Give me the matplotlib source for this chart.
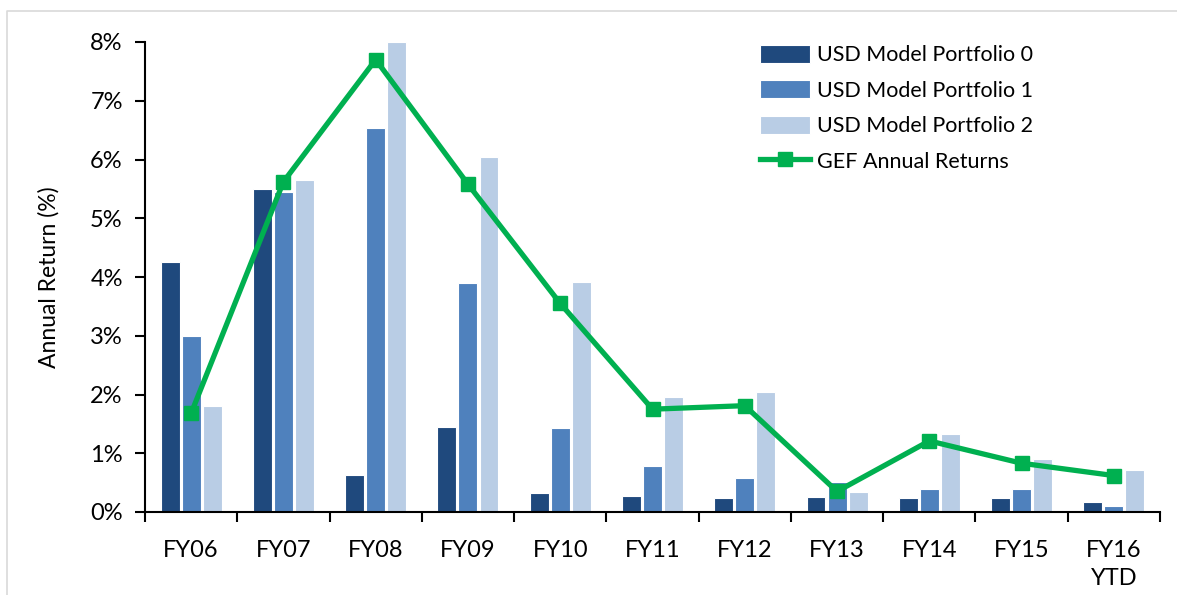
import matplotlib.pyplot as plt
import numpy as np
from matplotlib.lines import Line2D

plt.rcParams['font.family'] = ['Lato', 'DejaVu Sans']

years = ['FY06', 'FY07', 'FY08', 'FY09', 'FY10', 'FY11', 'FY12', 'FY13', 'FY14', 'FY15', 'FY16\nYTD']
p0 = [4.25, 5.50, 0.63, 1.45, 0.33, 0.28, 0.24, 0.26, 0.24, 0.23, 0.17]
p1 = [3.00, 5.45, 6.53, 3.90, 1.43, 0.78, 0.58, 0.51, 0.40, 0.40, 0.10]
p2 = [1.80, 5.65, 8.00, 6.05, 3.92, 1.95, 2.04, 0.34, 1.33, 0.90, 0.71]
gef = [1.68, 5.62, 7.70, 5.58, 3.55, 1.75, 1.81, 0.35, 1.21, 0.83, 0.62]

fig = plt.figure(figsize=(11.77, 5.95), dpi=100)
# light frame around the chart area (top and left edges visible)
fig.lines.append(Line2D([7/1177, 7/1177, 1], [0, 1 - 11/595, 1 - 11/595], transform=fig.transFigure,
                        color='#d9d9d9', linewidth=1.2))
ax = fig.add_axes([145/1177, 1 - 512/595, 1015/1177, 470/595])

x = np.arange(len(years))
w = 0.205
off = 0.228
ax.bar(x - off, p0, w, color='#1f497d', edgecolor='white', linewidth=0.8, label='USD Model Portfolio 0', zorder=2)
ax.bar(x, p1, w, color='#4f81bd', edgecolor='white', linewidth=0.8, label='USD Model Portfolio 1', zorder=2)
ax.bar(x + off, p2, w, color='#b9cde5', edgecolor='white', linewidth=0.8, label='USD Model Portfolio 2', zorder=2)
ax.plot(x, gef, color='#00b050', linewidth=3.8, marker='s', markersize=10, label='GEF Annual Returns', zorder=3)

ax.set_xlim(-0.5, len(years) - 0.5)
ax.set_ylim(0, 8)
ax.set_yticks(range(0, 9))
ax.set_yticklabels([f'{v}%' for v in range(0, 9)], fontsize=17)
ax.set_xticks(np.arange(-0.5, len(years), 1.0))
ax.set_xticklabels([])
ax.set_xticks(x, minor=True)
ax.set_xticklabels(years, minor=True, fontsize=17, linespacing=1.45)
ax.tick_params(axis='x', which='minor', length=0, pad=20)
ax.tick_params(axis='x', which='major', length=7, width=1.5, direction='out')
ax.tick_params(axis='y', length=7, width=1.5, direction='out', pad=9)
for s in ['top', 'right']:
    ax.spines[s].set_visible(False)
for s in ['left', 'bottom']:
    ax.spines[s].set_linewidth(1.5)
ax.set_ylabel('Annual Return (%)', fontsize=16.5, labelpad=22)

h, l = ax.get_legend_handles_labels()
h = h[1:] + h[:1]
l = l[1:] + l[:1]
ax.legend(h, l, loc='upper left', bbox_to_anchor=(0.587, 1.035), frameon=False, fontsize=15.5,
          handlelength=2.3, handleheight=0.9, labelspacing=0.7, handletextpad=0.35)

fig.savefig('out.png', dpi=100)
